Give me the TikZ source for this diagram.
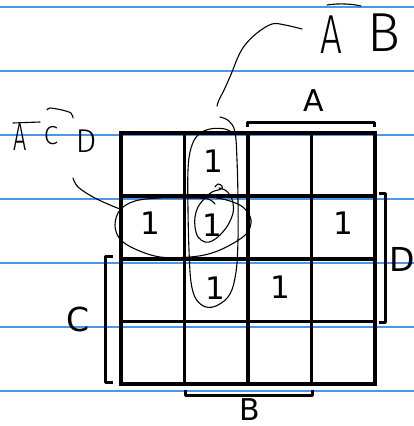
\documentclass[tikz,border=0pt]{standalone}
\usepackage{fontspec}
\setmainfont{DejaVu Sans}
\IfFontExistsTF{Fira Sans Light}{\newfontfamily\hand{Fira Sans Light}}{\newfontfamily\hand{DejaVu Sans}}
\definecolor{ruled}{RGB}{80,150,230}
\begin{document}
\begin{tikzpicture}[x=1pt,y=-1pt,
  ruleline/.style={ruled, line width=1.4pt},
  gridline/.style={black, line width=3.4pt, line cap=rect},
  brack/.style={black, line width=3pt, line join=round},
  ink/.style={black, line width=1.1pt, line cap=round, line join=round},
  one/.style={font=\fontsize{31}{31}\selectfont, inner sep=0pt},
  lab/.style={font=\fontsize{33}{33}\selectfont, inner sep=0pt},
  hw/.style={inner sep=0pt}]
\useasboundingbox (0,0) rectangle (414,426);
% ruled paper lines
\foreach \yy in {7,71,135,199,263,327,391}
  \draw[ruleline] (0,\yy) -- (414,\yy);
% K-map grid
\foreach \xx in {121,184.5,248,311.5,375}
  \draw[gridline] (\xx,133) -- (\xx,384);
\foreach \yy in {133,196,259,321.5,384}
  \draw[gridline] (121,\yy) -- (375,\yy);
% brackets
\draw[brack] (247,127) -- (247,122) -- (374,122) -- (374,127);
\draw[brack] (379,193) -- (385,193) -- (385,322) -- (379,322);
\draw[brack] (113,256) -- (105,256) -- (105,382) -- (113,382);
\draw[brack] (185,390) -- (185,395) -- (312,395) -- (312,390);
% labels
\node[lab, font=\fontsize{30}{30}\selectfont] (labA) at (313.5,100.5) {A};
\node[lab] (labD) at (402.5,259) {D};
\node[lab] (labC) at (78,319.5) {C};
\node[lab, font=\fontsize{30}{30}\selectfont] (labB) at (249.5,410) {B};
% ones
\node[one] (m01) at (213,161.5) {1};
\node[one] (m10) at (150,223.5) {1};
\node[one] (m11) at (212.5,225) {1};
\node[one] (m13) at (343.5,223.5) {1};
\node[one] (m21) at (215,288.5) {1};
\node[one] (m22) at (280.5,287.5) {1};
% handwritten terms
\node[hw, font=\hand\fontsize{55}{55}\selectfont] (hA1) at (331.5,35) {\scalebox{0.7}[1]{A}};
\node[hw, font=\hand\fontsize{55}{55}\selectfont] (hB1) at (384,33) {B};
\draw[ink] (327,5) .. controls (340,3) and (352,4) .. (361,6);
\node[hw, font=\hand\fontsize{39}{39}\selectfont] (hA2) at (20,137) {\scalebox{0.6}[1]{A}};
\node[hw, font=\hand\fontsize{26}{26}\selectfont] (hC2) at (51,136) {C};
\node[hw, font=\hand\fontsize{33}{33}\selectfont] (hD2) at (86,141) {D};
\draw[ink] (13,123) -- (40,122);
\draw[ink] plot[smooth] coordinates {(47,110) (50,108) (62,110) (71,113) (73,118)};
% connectors (hand drawn)
\coordinate (tAB) at (302,29);
\coordinate (eAB) at (217,106);
\coordinate (tACD) at (73,178);
\coordinate (eACD) at (120,209);
\draw[ink] plot[smooth, tension=0.6] coordinates {(tAB) (285,25) (272,24) (257,33) (245,45) (238,57) (232,72) (225,88) (219,100) (eAB)};
\draw[ink] plot[smooth, tension=0.6] coordinates {(tACD) (78,187) (93,197) (110,205) (eACD)};
% vertical loop
\draw[ink] plot[smooth, tension=0.6] coordinates {(220,117) (229,121) (235,132) (237,160) (238,200) (238,240) (236,272) (230,294) (218,305) (206,307) (196,299) (191,282) (189,250) (188,210) (188,170) (191,148) (198,135) (210,129) (225,129) (234,134)};
% small loop around middle one
\draw[ink] plot[smooth, tension=0.6] coordinates {(215,187) (218,184) (222,186) (221,189) (212,192) (205,198) (198,207) (195,217) (195,227) (198,237) (205,242) (212,241) (220,235) (228,225) (233,213) (233,203) (230,195) (225,190) (219,188)};
% horizontal loop
\draw[ink] plot[smooth, tension=0.6] coordinates {(215,204) (208,199) (190,198) (160,198) (135,201) (120,210) (115,225) (120,239) (135,249) (160,257) (190,257) (212,253) (232,244) (247,233) (251,220) (244,208) (230,201) (210,197) (185,196)};
\end{tikzpicture}
\end{document}
